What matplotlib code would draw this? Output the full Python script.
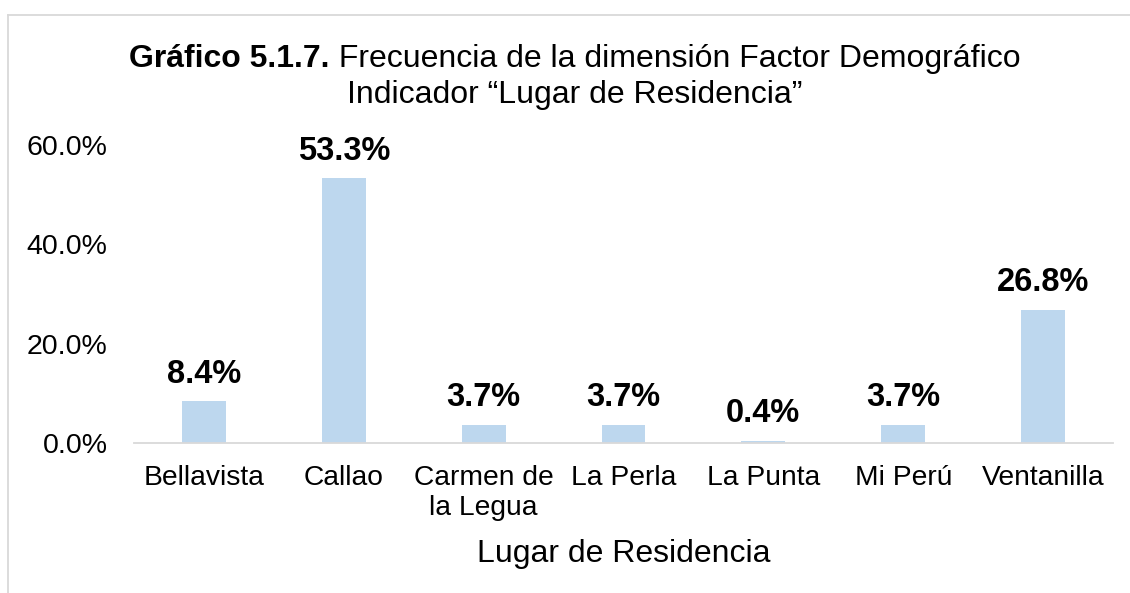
import matplotlib
matplotlib.use("Agg")
import matplotlib.pyplot as plt
from matplotlib.lines import Line2D

categories = ["Bellavista", "Callao", "Carmen de\nla Legua", "La Perla",
              "La Punta", "Mi Perú", "Ventanilla"]
percentages = [8.4, 53.3, 3.7, 3.7, 0.4, 3.7, 26.8]
y_ticks = [0, 20, 40, 60]
title_bold = "Gráfico 5.1.7."
title_line1 = " Frecuencia de la dimensión Factor Demográfico"
title_line2 = "Indicador “Lugar de Residencia”"
x_title = "Lugar de Residencia"

plt.rcParams["font.family"] = ["Liberation Sans", "DejaVu Sans"]

W, H = 1130, 593
fig = plt.figure(figsize=(W / 100, H / 100), dpi=100)
ax = fig.add_axes([134 / W, 150 / H, 979 / W, 298 / H])

x = list(range(len(categories)))
bars = ax.bar(x, percentages, width=0.314, color="#BDD7EE", zorder=2)
ax.set_xlim(-0.5, len(categories) - 0.5)
ax.set_ylim(0, 60)
ax.set_yticks(y_ticks)
ax.set_yticklabels([f"{v:.1f}%" for v in y_ticks], fontsize=20.5)
ax.set_xticks(x)
ax.set_xticklabels(categories, fontsize=20.3, linespacing=1.2)
ax.tick_params(axis="y", length=0, pad=19)
ax.tick_params(axis="x", length=0, pad=16)
for s in ["top", "right", "left"]:
    ax.spines[s].set_visible(False)
ax.spines["bottom"].set_color("#d9d9d9")
ax.spines["bottom"].set_linewidth(1.3)
ax.spines["bottom"].set_zorder(3)

for b, v in zip(bars, percentages):
    ax.annotate(f"{v:.1f}%", (b.get_x() + b.get_width() / 2, v),
                xytext=(0, 13.5), textcoords="offset points",
                ha="center", va="baseline", fontsize=23.5, fontweight="bold")

ax.set_xlabel(x_title, fontsize=23, labelpad=13)

# frame around chart
fig.add_artist(Line2D([8 / W, 8 / W], [0, 1 - 15 / H], color="#d9d9d9", lw=1.3))
fig.add_artist(Line2D([8 / W, 1], [1 - 15 / H, 1 - 15 / H], color="#d9d9d9", lw=1.3))

# title with bold prefix, centered
cx = 575 / W
y1 = 1 - 67 / H
y2 = 1 - 103 / H
t1 = fig.text(0, y1, title_bold, fontsize=23, fontweight="bold", va="baseline")
t2 = fig.text(0, y1, title_line1, fontsize=23, va="baseline")
fig.canvas.draw()
r = fig.canvas.get_renderer()
w1 = t1.get_window_extent(r).width / W
w2 = t2.get_window_extent(r).width / W
start = cx - (w1 + w2) / 2
t1.set_x(start)
t2.set_x(start + w1)
fig.text(cx, y2, title_line2, fontsize=23, ha="center", va="baseline")

fig.savefig("out.png", dpi=100)
